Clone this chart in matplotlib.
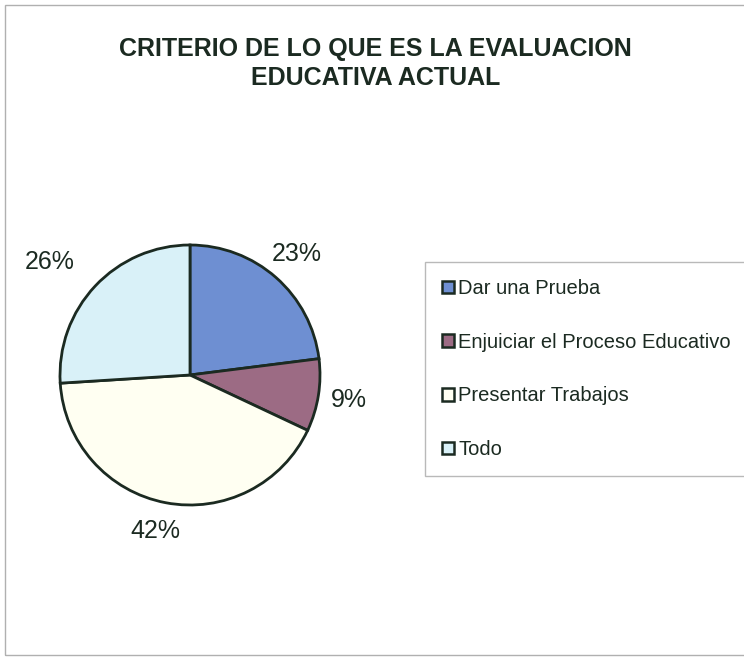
import matplotlib
matplotlib.use('Agg')
import matplotlib.pyplot as plt
from matplotlib.patches import Rectangle

# Data
categories = ['Dar una Prueba', 'Enjuiciar el Proceso Educativo', 'Presentar Trabajos', 'Todo']
values = [23, 9, 42, 26]
colors = ['#6e8fd2', '#9c6b84', '#fffff2', '#d9f1f8']
title = 'CRITERIO DE LO QUE ES LA EVALUACION\nEDUCATIVA ACTUAL'

plt.rcParams['font.family'] = ['Liberation Sans', 'DejaVu Sans']
ink = '#1b2a21'

W, H = 744, 659
fig = plt.figure(figsize=(W / 100, H / 100), dpi=100)
fig.patch.set_facecolor('white')

# outer frame of the chart area
fig.patches.append(Rectangle((5 / W, 4 / H), 1.0, 1 - 9 / H, transform=fig.transFigure,
                             fill=False, edgecolor='#b0b0b0', linewidth=1.0))

# pie axes: center ~ (190, 375) px, radius ~130 px
cx, cy, r = 190, 375, 130
ax = fig.add_axes([(cx - r) / W, (H - cy - r) / H, 2 * r / W, 2 * r / H])
wedges, texts, autotexts = ax.pie(values, colors=colors, startangle=90, counterclock=False,
                                  autopct='%1.0f%%', pctdistance=1.24,
                                  wedgeprops=dict(edgecolor=ink, linewidth=2.0),
                                  textprops=dict(fontsize=18, color=ink))
ax.set_xlim(-1, 1)
ax.set_ylim(-1, 1)
ax.set_aspect('equal')
# the 26% label sits a bit further out
autotexts[3].set_position((-1.08, 0.87))
autotexts[2].set_position((-0.27, -1.2))

fig.text(0.505, 1 - 37 / H, title, ha='center', va='top', fontsize=18, fontweight='bold',
         color=ink, linespacing=1.25)

leg = fig.legend(wedges, categories, loc='upper left', bbox_to_anchor=(425 / W, 1 - 262 / H),
                 fontsize=14.5, frameon=True, fancybox=False, labelspacing=1.72,
                 handlelength=0.6, handleheight=0.6, handletextpad=0.2, borderpad=0.85,
                 borderaxespad=0, labelcolor=ink)
leg.get_frame().set_edgecolor('#a8a8a8')
leg.get_frame().set_linewidth(1.0)
for h in leg.legend_handles:
    h.set_edgecolor(ink)
    h.set_linewidth(1.8)

fig.savefig('out.png', dpi=100)
